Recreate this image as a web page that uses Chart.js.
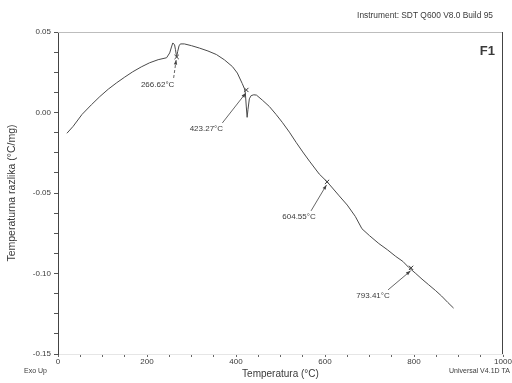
<!DOCTYPE html>
<html>
<head>
<meta charset="utf-8">
<script src="https://cdn.jsdelivr.net/npm/chart.js@4.4.1/dist/chart.umd.min.js"></script>
<style>
  html, body { margin: 0; padding: 0; background: #fff; }
  #wrap { width: 512px; height: 383px; position: relative; }
</style>
</head>
<body>
<div id="wrap"><canvas id="myChart" width="512" height="383"></canvas></div>
<script>
// DTA curve
const temperatura = [20, 34, 54, 75, 94, 113, 132, 150, 168, 187, 206, 225, 244, 251, 255, 258, 262, 264, 266.6, 269, 272, 275, 284, 300, 318, 337, 356, 374, 392, 403, 414, 419, 421, 423, 425, 427, 430, 434, 440, 446, 460, 475, 490, 504, 520, 535, 550, 565, 587, 605, 632, 650, 668, 683, 700, 721, 740, 759, 775, 788, 804, 818, 833, 848, 862, 876, 889];
const razlika = [-0.0129, -0.0086, -0.0012, 0.0048, 0.0099, 0.0145, 0.0185, 0.022, 0.0253, 0.0283, 0.0309, 0.0328, 0.034, 0.037, 0.0407, 0.0432, 0.042, 0.039, 0.0345, 0.038, 0.0414, 0.0426, 0.0426, 0.0415, 0.040, 0.0382, 0.036, 0.0327, 0.0285, 0.0245, 0.018, 0.0148, 0.012, 0.004, -0.003, 0.002, 0.0085, 0.0105, 0.011, 0.0108, 0.0075, 0.0037, -0.0012, -0.0061, -0.0122, -0.0185, -0.0245, -0.0302, -0.0382, -0.0431, -0.0518, -0.0575, -0.0645, -0.0722, -0.0765, -0.0814, -0.0852, -0.0894, -0.0925, -0.0962, -0.100, -0.1035, -0.107, -0.1105, -0.114, -0.118, -0.1215];

// marked peaks
const peakTemps = [266.62, 423.27, 604.55, 793.41];
const peakVals = [0.0345, 0.014, -0.0431, -0.0965];
const peakLabels = ['266.62°C', '423.27°C', '604.55°C', '793.41°C'];

// axis ticks
const xLabelTicks = [0, 200, 400, 600, 800, 1000];
const yLabelTicks = [0.05, 0, -0.05, -0.1, -0.15];

const txt = '#3a3a3a';
const fam = '"Liberation Sans", Arial, sans-serif';

// label / arrow placement relative to each peak (px)
const labelPlace = [
  { lx: -19, ly: 28, sx: -3, sy: 21, dash: true },
  { lx: -40, ly: 39, sx: -24, sy: 33, dash: false },
  { lx: -28, ly: 35, sx: -16, sy: 29, dash: false },
  { lx: -38, ly: 28, sx: -23, sy: 22, dash: false }
];

const extras = {
  id: 'extras',
  afterDraw(chart) {
    const { ctx, chartArea: a, scales } = chart;
    ctx.save();
    // frame
    ctx.lineWidth = 1;
    ctx.strokeStyle = '#bdbdbd';
    ctx.beginPath(); ctx.moveTo(a.left, a.top + 0.5); ctx.lineTo(a.right, a.top + 0.5); ctx.stroke();
    ctx.strokeStyle = '#444';
    ctx.beginPath(); ctx.moveTo(a.right - 0.5, a.top); ctx.lineTo(a.right - 0.5, a.bottom); ctx.stroke();

    // peak annotations
    ctx.font = '8px ' + fam;
    ctx.textAlign = 'center';
    ctx.textBaseline = 'middle';
    peakTemps.forEach((t, i) => {
      const px = scales.x.getPixelForValue(t);
      const py = scales.y.getPixelForValue(peakVals[i]);
      const p = labelPlace[i];
      ctx.fillStyle = txt;
      ctx.fillText(peakLabels[i], px + p.lx, py + p.ly);
      const x0 = px + p.sx, y0 = py + p.sy, x1 = px - 0.5, y1 = py + 3;
      ctx.strokeStyle = '#555';
      ctx.lineWidth = 0.9;
      ctx.setLineDash(p.dash ? [3, 2] : []);
      ctx.beginPath(); ctx.moveTo(x0, y0); ctx.lineTo(x1, y1); ctx.stroke();
      ctx.setLineDash([]);
      const ang = Math.atan2(y1 - y0, x1 - x0);
      ctx.fillStyle = '#444';
      ctx.beginPath();
      ctx.moveTo(x1, y1);
      ctx.lineTo(x1 - 5 * Math.cos(ang - 0.35), y1 - 5 * Math.sin(ang - 0.35));
      ctx.lineTo(x1 - 5 * Math.cos(ang + 0.35), y1 - 5 * Math.sin(ang + 0.35));
      ctx.closePath(); ctx.fill();
    });

    // page texts
    ctx.fillStyle = txt;
    ctx.textAlign = 'right';
    ctx.font = '8.4px ' + fam;
    ctx.fillText('Instrument: SDT Q600 V8.0 Build 95', 493, 16);
    ctx.font = 'bold 13px ' + fam;
    ctx.fillText('F1', 495, 51);
    ctx.font = '7px ' + fam;
    ctx.textAlign = 'left';
    ctx.fillText('Exo Up', 24, 371);
    ctx.fillText('Universal V4.1D TA', 449, 371);
    ctx.restore();
  }
};

const ctx = document.getElementById('myChart').getContext('2d');
const myChart = new Chart(ctx, {
  type: 'scatter',
  data: {
    datasets: [{
      data: temperatura.map((t, i) => ({ x: t, y: razlika[i] })),
      showLine: true,
      borderColor: '#4a4a4a',
      borderWidth: 1,
      pointRadius: 0,
      tension: 0
    }, {
      data: peakTemps.map((t, i) => ({ x: t, y: peakVals[i] })),
      pointStyle: 'crossRot',
      pointRadius: 3,
      borderColor: '#333',
      borderWidth: 1
    }]
  },
  plugins: [extras],
  options: {
    responsive: false,
    animation: false,
    layout: { padding: { left: 0, right: 9, top: 32, bottom: 0 } },
    plugins: { legend: { display: false }, tooltip: { enabled: false } },
    scales: {
      x: {
        type: 'linear', min: 0, max: 1000,
        afterFit: s => { s.height = 29; },
        border: { color: '#e6e6e6' },
        grid: { drawOnChartArea: false, tickLength: 3, tickColor: '#666' },
        ticks: {
          stepSize: 50, maxRotation: 0, autoSkip: false, padding: 0,
          color: txt, font: { family: fam, size: 8 },
          callback: v => xLabelTicks.includes(v) ? String(v) : ''
        },
        title: { display: true, text: 'Temperatura (°C)', color: txt, font: { family: fam, size: 10 }, padding: { top: 0, bottom: 3 } }
      },
      y: {
        min: -0.15, max: 0.05,
        afterFit: s => { s.width = 58; },
        border: { color: '#444' },
        grid: { drawOnChartArea: false, tickLength: 4, tickColor: '#555' },
        ticks: {
          stepSize: 0.0125, autoSkip: false, padding: 3,
          color: txt, font: { family: fam, size: 8 },
          callback: v => yLabelTicks.some(t => Math.abs(t - v) < 1e-6) ? v.toFixed(2) : ''
        },
        title: { display: true, text: 'Temperaturna razlika (°C/mg)', color: txt, font: { family: fam, size: 10.5 }, padding: { top: 6, bottom: 0 } }
      }
    }
  }
});
</script>
</body>
</html>
